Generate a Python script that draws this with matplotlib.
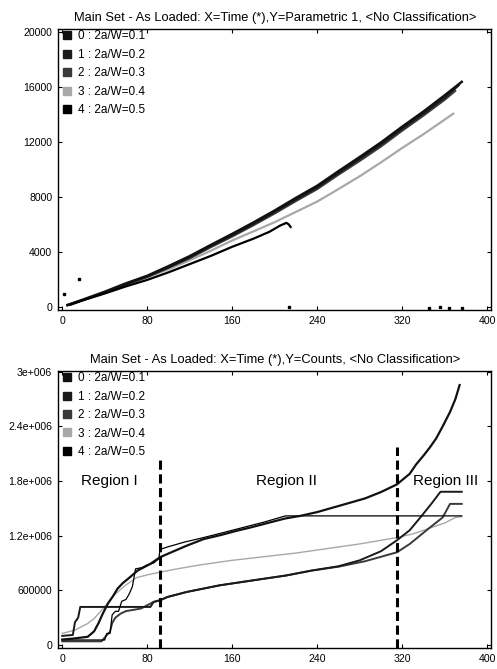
import matplotlib
matplotlib.use("Agg")
import matplotlib.pyplot as plt
from matplotlib.lines import Line2D

plt.rcParams['font.family'] = ['Liberation Sans', 'DejaVu Sans']

# legend / series
serie_ids = ['0', '1', '2', '3', '4']
serie_lbl = ['2a/W=0.1', '2a/W=0.2', '2a/W=0.3', '2a/W=0.4', '2a/W=0.5']
colores = ['#111111', '#1a1a1a', '#3a3a3a', '#a8a8a8', '#000000']

# --- grafico 1: Parametric 1 vs tiempo
t_p0 = [5, 20, 40, 60, 80, 100, 120, 140, 160, 180, 200, 220, 240, 260, 280, 300, 320, 340, 360, 376]
p_p0 = [130, 530, 1090, 1700, 2250, 2950, 3680, 4500, 5300, 6130, 7000, 7920, 8800, 9860, 10890, 11950, 13100, 14200, 15380, 16360]
t_p1 = [5, 20, 40, 60, 80, 100, 120, 140, 160, 180, 200, 220, 240, 260, 280, 300, 320, 340, 360, 373]
p_p1 = [110, 500, 1050, 1650, 2200, 2880, 3600, 4420, 5200, 6030, 6900, 7800, 8680, 9730, 10750, 11800, 12950, 14050, 15200, 16100]
t_p2 = [5, 20, 40, 60, 80, 100, 120, 140, 160, 180, 200, 220, 240, 260, 280, 300, 320, 340, 360, 370]
p_p2 = [100, 480, 1020, 1620, 2150, 2820, 3520, 4330, 5100, 5920, 6780, 7680, 8550, 9600, 10600, 11650, 12800, 13900, 15050, 15700]
t_p3 = [5, 20, 40, 60, 80, 100, 120, 140, 160, 180, 200, 220, 240, 260, 280, 300, 320, 340, 368]
p_p3 = [120, 500, 1000, 1580, 2150, 2720, 3380, 4080, 4820, 5480, 6150, 6900, 7650, 8560, 9490, 10500, 11550, 12550, 14040]
t_p4 = [8, 20, 40, 60, 80, 100, 120, 140, 160, 180, 195, 205, 211, 213, 215]
p_p4 = [150, 480, 960, 1480, 1950, 2500, 3100, 3700, 4360, 4950, 5450, 5900, 6100, 6000, 5800]
t_sueltos = [2, 16, 213, 345, 356, 364, 376]
p_sueltos = [900, 1990, -40, -60, -40, -80, -60]

# --- grafico 2: Counts vs tiempo
t_c0 = [0, 10, 24, 30, 34, 38, 43, 48, 52, 57, 62, 71, 83, 92, 105, 117, 133, 150, 164, 177, 195, 210,
        224, 240, 255, 271, 285, 300, 315, 327, 333, 340, 346, 352, 358, 365, 370, 374]
c_c0 = [60000, 70000, 90000, 150000, 236000, 340000, 455000, 540000, 618000, 680000, 727000, 818000,
        891000, 964000, 1030000, 1090000, 1163000, 1210000, 1254000, 1290000, 1345000, 1390000,
        1418000, 1460000, 1510000, 1563000, 1610000, 1680000, 1764000, 1880000, 1982000, 2080000,
        2170000, 2270000, 2400000, 2560000, 2700000, 2855000]
t_c1 = [0, 10, 12, 15, 17, 83, 86, 92, 99, 117, 148, 179, 211, 235, 260, 280, 300, 315, 327, 337,
        348, 356, 376]
c_c1 = [100000, 110000, 250000, 300000, 418000, 418000, 473000, 491000, 527000, 582000, 655000,
        709000, 764000, 818000, 865000, 930000, 1030000, 1150000, 1260000, 1400000, 1560000, 1683000,
        1683000]
t_c2 = [0, 37, 42, 45, 47, 50, 55, 60, 65, 74, 86, 92, 99, 117, 148, 179, 211, 235, 260, 285, 315,
        327, 346, 358, 365, 376]
c_c2 = [40000, 40000, 110000, 145000, 240000, 300000, 345000, 372000, 382000, 400000, 473000,
        491000, 527000, 582000, 655000, 709000, 764000, 818000, 860000, 920000, 1018000, 1109000,
        1290000, 1400000, 1550000, 1550000]
t_c3 = [0, 12, 24, 30, 40, 50, 60, 70, 80, 92, 110, 130, 160, 190, 220, 250, 280, 315, 330, 345,
        360, 370, 376]
c_c3 = [127000, 164000, 236000, 290000, 420000, 560000, 660000, 740000, 770000, 800000, 840000,
        880000, 930000, 970000, 1010000, 1060000, 1110000, 1180000, 1220000, 1280000, 1340000,
        1400000, 1410000]
t_c4 = [0, 40, 42, 45, 47, 50, 53, 56, 60, 63, 66, 69, 75, 80, 86, 91, 92, 100, 115, 133, 150, 170,
        190, 210, 376]
c_c4 = [55000, 55000, 127000, 127000, 330000, 370000, 370000, 480000, 500000, 560000, 640000,
        836000, 850000, 880000, 900000, 950000, 1050000, 1080000, 1130000, 1180000, 1230000, 1290000,
        1350000, 1418000, 1418000]

limites_x = [92, 315]
limites_top = [2.05e6, 2.17e6]
regiones = ['Region I', 'Region II', 'Region III']

xt = [0, 80, 160, 240, 320, 400]
yt1 = [0, 4000, 8000, 12000, 16000, 20000]
yt2 = [0, 600000, 1200000, 1800000, 2400000, 3000000]
yt2_lbl = ['0', '600000', '1.2e+006', '1.8e+006', '2.4e+006', '3e+006']

fig = plt.figure(figsize=(4.97, 6.69), dpi=100)
ax1 = fig.add_axes([0.1177, 0.5366, 0.8712, 0.4200])
ax2 = fig.add_axes([0.1177, 0.0314, 0.8712, 0.4141])

# Grafico 1
ax1.plot(t_p3, p_p3, color=colores[3], lw=1.6)
ax1.plot(t_p2, p_p2, color=colores[2], lw=1.4)
ax1.plot(t_p1, p_p1, color=colores[1], lw=1.6)
ax1.plot(t_p0, p_p0, color=colores[0], lw=1.8)
ax1.plot(t_p4, p_p4, color=colores[4], lw=1.6)
ax1.plot(t_sueltos, p_sueltos, ls='none', marker='s', ms=1.5, color='k')
ax1.set_xlim(-3.5, 404)
ax1.set_ylim(-240, 20200)
ax1.set_xticks(xt)
ax1.set_yticks(yt1)
ax1.set_yticklabels([str(v) for v in yt1])
ax1.set_title('Main Set - As Loaded: X=Time (*),Y=Parametric 1, <No Classification>', fontsize=9.3, pad=6)

# Grafico 2
ax2.plot(t_c3, c_c3, color=colores[3], lw=1.0)
ax2.plot(t_c2, c_c2, color=colores[2], lw=1.4)
ax2.plot(t_c1, c_c1, color=colores[1], lw=1.4)
ax2.plot(t_c4, c_c4, color=colores[4], lw=0.9)
ax2.plot(t_c0, c_c0, color=colores[0], lw=1.6)
ax2.set_xlim(-3.5, 404)
ax2.set_ylim(-33000, 3010000)
ax2.vlines(limites_x, [-33000, -33000], limites_top, colors='k', lw=2.2, linestyles=(0, (3, 1.5)))
ax2.text(18, 1.8e6, regiones[0], fontsize=11, va='center')
ax2.text(182, 1.8e6, regiones[1], fontsize=11, va='center')
ax2.text(330, 1.8e6, regiones[2], fontsize=11, va='center')
ax2.set_xticks(xt)
ax2.set_yticks(yt2)
ax2.set_yticklabels(yt2_lbl)
ax2.set_title('Main Set - As Loaded: X=Time (*),Y=Counts, <No Classification>', fontsize=9.3, pad=6)

handles = [Line2D([], [], ls='none', marker='s', ms=5.5, color=c) for c in colores]
etiquetas = [i + ' : ' + l for i, l in zip(serie_ids, serie_lbl)]

for ax in (ax1, ax2):
    ax.tick_params(direction='in', top=True, right=True, length=3, width=0.8,
                   labelsize=7.6, pad=4.5)
    for s in ax.spines.values():
        s.set_linewidth(1.0)
    ax.legend(handles, etiquetas, loc='upper left', bbox_to_anchor=(0.005, 1.0),
              frameon=False, fontsize=8.5, handlelength=0.8, handletextpad=0.6,
              labelspacing=0.55, borderaxespad=0.0, borderpad=0.1)

fig.savefig('out.png', dpi=100)
